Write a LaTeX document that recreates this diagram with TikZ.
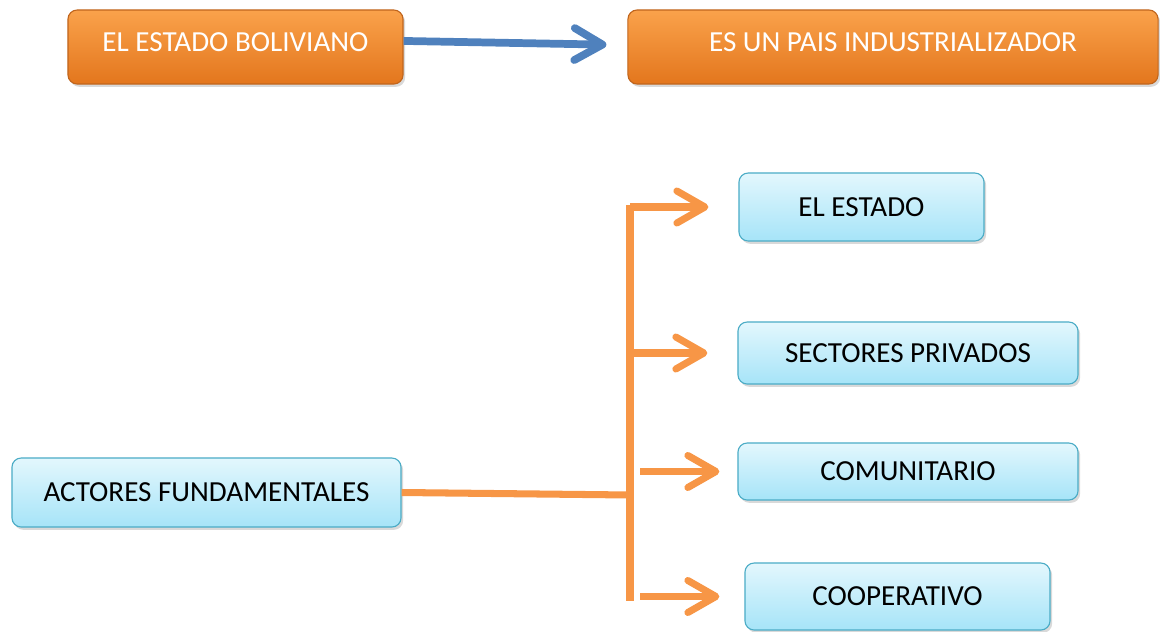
\documentclass[tikz,border=0pt]{standalone}
\usepackage{fontspec}
\setmainfont{Carlito}
\usetikzlibrary{arrows.meta,shadows}
\definecolor{orangetop}{HTML}{FAA24B}
\definecolor{orangebottom}{HTML}{E3761D}
\definecolor{orangeline}{HTML}{C0651D}
\definecolor{bluetop}{HTML}{E3F7FD}
\definecolor{bluebottom}{HTML}{A6E4F8}
\definecolor{blueline}{HTML}{4BACC6}
\definecolor{branchorange}{HTML}{F79646}
\definecolor{pointerblue}{HTML}{4F81BD}
\begin{document}
\begin{tikzpicture}[x=0.025cm,y=-0.025cm]
        \tikzstyle{orangebox}=[rectangle,rounded corners=0.23cm,line width=0.8pt,draw=orangeline,top color=orangetop,bottom color=orangebottom,text=white,text depth=7.5pt,font=\fontsize{20.7}{24}\selectfont,drop shadow={opacity=0.3,shadow xshift=1.5pt,shadow yshift=-2pt}]
        \tikzstyle{bluebox}=[rectangle,rounded corners=0.23cm,line width=0.8pt,draw=blueline,top color=bluetop,bottom color=bluebottom,text=black,font=\fontsize{20.7}{24}\selectfont,drop shadow={opacity=0.3,shadow xshift=1.5pt,shadow yshift=-2pt}]
        \tikzstyle{branch}=[draw=branchorange,line width=5pt]
        \tikzstyle{fork}=[branch,-{Straight Barb[length=0.7cm,width=0.8cm,round]}]
        \tikzstyle{pointer}=[draw=pointerblue,line width=5.5pt,-{Straight Barb[length=0.7cm,width=0.8cm,round]}]
        \useasboundingbox (0,0) rectangle (1160,632);
        \begin{scope}
           \node [orangebox,minimum width=8.375cm,minimum height=1.85cm] (estado) at (235.5,47) {EL ESTADO BOLIVIANO};
           \node [orangebox,minimum width=13.25cm,minimum height=1.85cm] (industria) at (893,47) {ES UN PAIS INDUSTRIALIZADOR};
           \node [bluebox,minimum width=9.725cm,minimum height=1.725cm] (actores) at (206.5,492.5) {ACTORES FUNDAMENTALES};
           \node [bluebox,minimum width=6.125cm,minimum height=1.7cm] (estadob) at (861.5,207) {EL ESTADO};
           \node [bluebox,minimum width=8.5cm,minimum height=1.55cm] (privados) at (908,353) {SECTORES PRIVADOS};
           \node [bluebox,minimum width=8.5cm,minimum height=1.425cm] (comunitario) at (908,471.5) {COMUNITARIO};
           \node [bluebox,minimum width=7.625cm,minimum height=1.675cm] (cooperativo) at (897.5,596.5) {COOPERATIVO};
           \coordinate (bartop) at (630,205);
           \coordinate (barbot) at (630,601);
           \coordinate (barjoin) at (630,495);
           \path[pointer,shorten >=0.525cm] ([yshift=4.3pt]estado.east) -- ([yshift=1.4pt]industria.west);
           \path[branch] (bartop) -- (barbot);
           \path[branch] (actores.east) -- (barjoin);
           \path[fork,shorten >=0.75cm] (bartop |- estadob.west) -- (estadob.west);
           \path[fork,shorten >=0.75cm] (bartop |- privados.west) -- (privados.west);
           \path[fork,shorten <=0.25cm,shorten >=0.45cm] (bartop |- comunitario.west) -- (comunitario.west);
           \path[fork,shorten <=0.25cm,shorten >=0.625cm] (bartop |- cooperativo.west) -- (cooperativo.west);
        \end{scope}
      \end{tikzpicture}
\end{document}
